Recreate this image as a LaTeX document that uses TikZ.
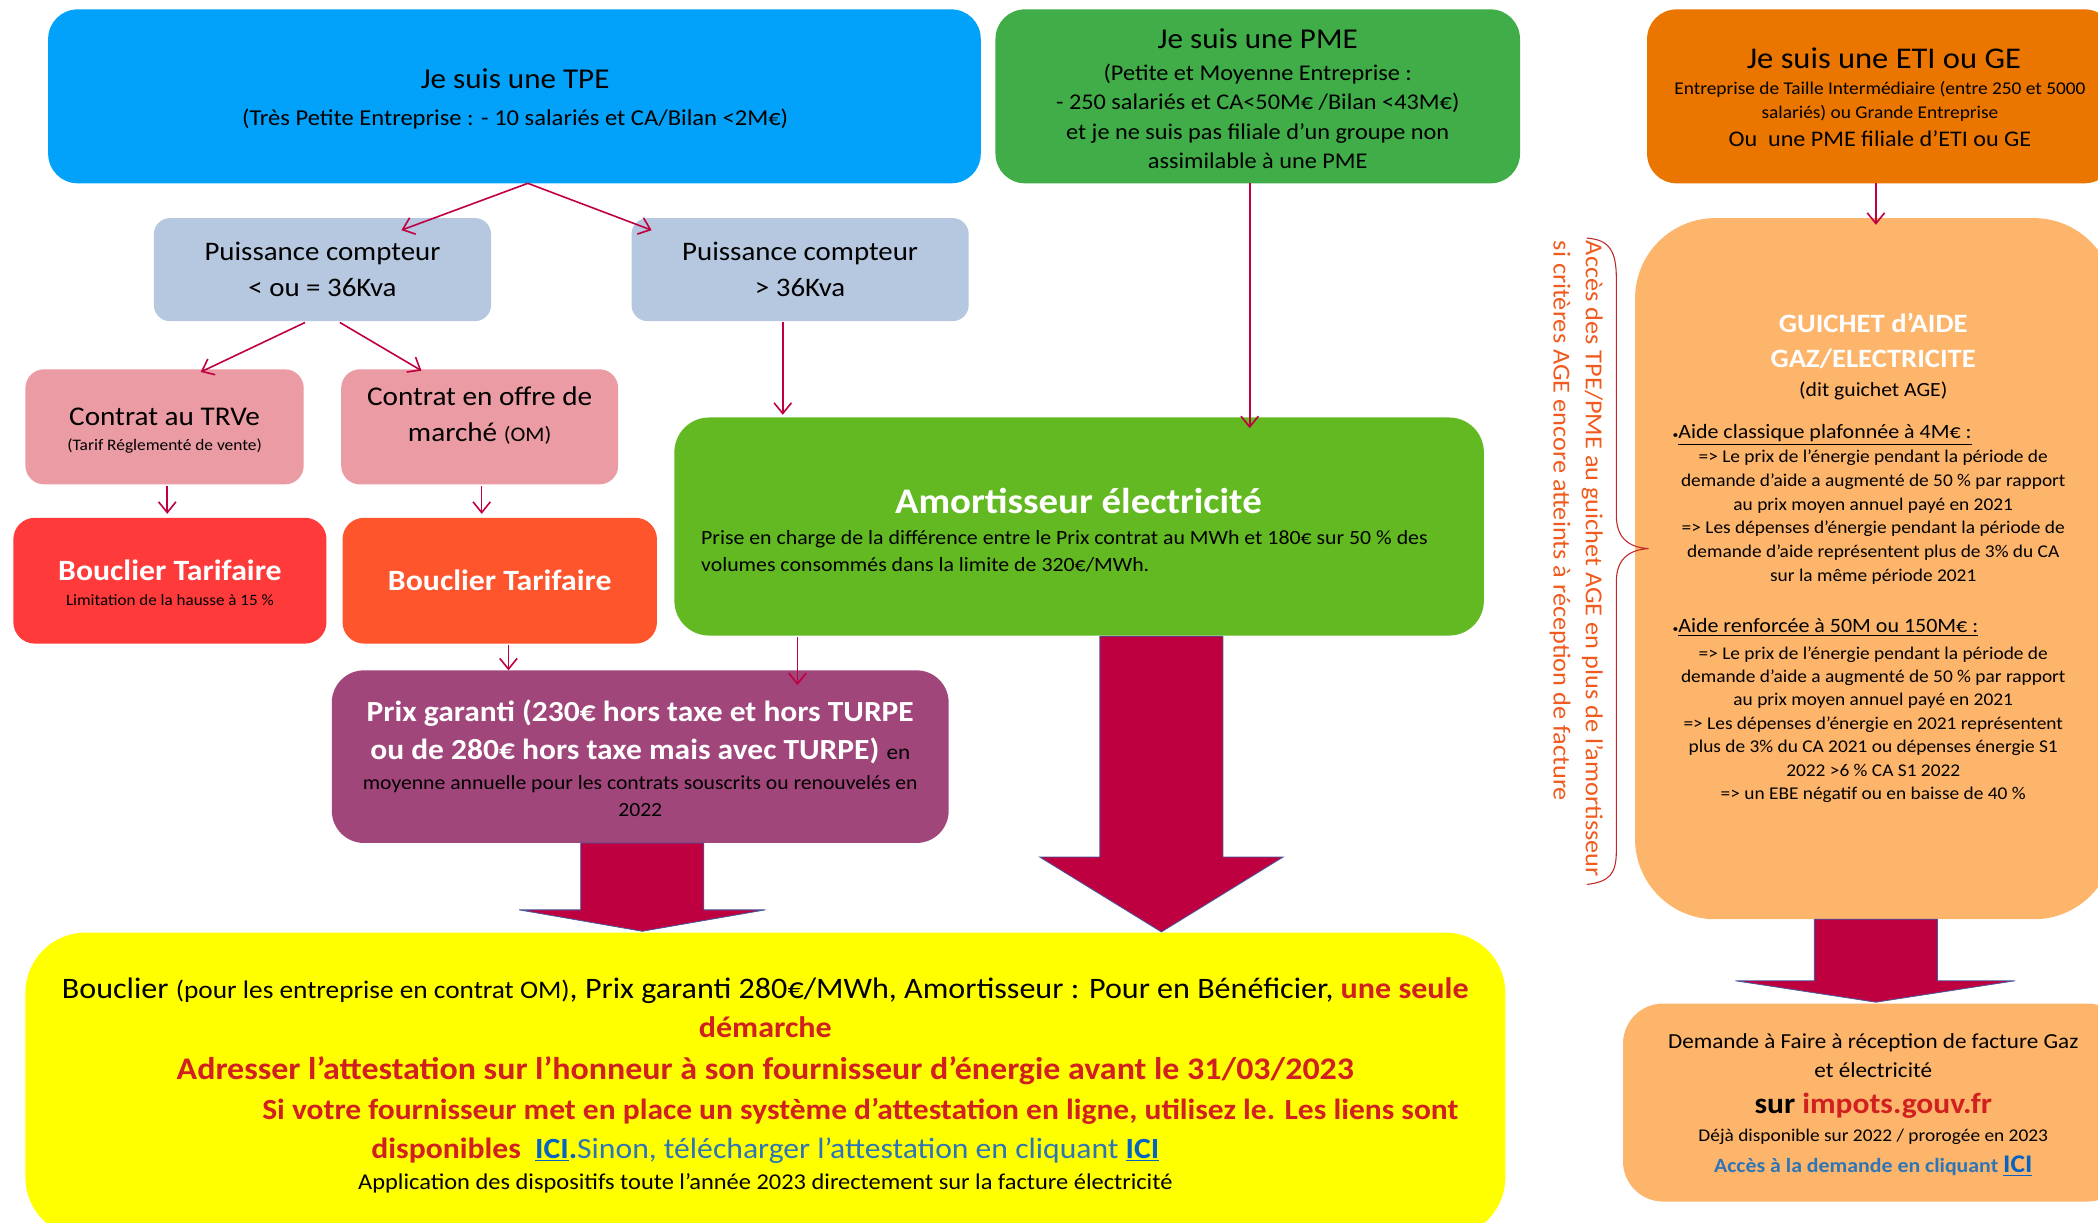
\documentclass[tikz,border=0pt]{standalone}
\usepackage{fontspec}
\setmainfont{Carlito}[FakeStretch=1.08]
\usetikzlibrary{arrows.meta,calc}
\definecolor{tpeblue}{RGB}{3,162,250}
\definecolor{pmegreen}{RGB}{64,173,72}
\definecolor{etiorange}{RGB}{234,118,0}
\definecolor{puiss}{RGB}{182,199,224}
\definecolor{pinkc}{RGB}{234,155,163}
\definecolor{redb}{RGB}{255,58,58}
\definecolor{orangeb}{RGB}{255,85,45}
\definecolor{amgreen}{RGB}{98,185,34}
\definecolor{prixp}{RGB}{160,70,122}
\definecolor{yel}{RGB}{255,255,0}
\definecolor{lorange}{RGB}{253,180,107}
\definecolor{crim}{RGB}{192,0,64}
\definecolor{bigred}{RGB}{190,0,64}
\definecolor{arrowedge}{RGB}{70,90,160}
\definecolor{redt}{RGB}{208,32,32}
\definecolor{bluet}{RGB}{46,117,182}
\definecolor{linkblue}{RGB}{5,99,193}
\definecolor{rotor}{RGB}{240,90,30}
\definecolor{bracec}{RGB}{192,40,40}
\newcommand{\fz}[2]{\fontsize{#1}{#2}\selectfont}
\begin{document}
\begin{tikzpicture}[x=1pt,y=-1pt,
  box/.style={inner sep=0pt,outer sep=0pt,draw=none},
  txt/.style={inner sep=0pt,outer sep=0pt,align=center},
  conn/.style={draw=crim,line width=1.2pt,-{Straight Barb[length=8pt,width=13pt]}},
  bigarrow/.style={fill=bigred,draw=arrowedge,line width=0.6pt,line join=miter}]
\useasboundingbox (0,0) rectangle (1568,914);
\clip (0,0) rectangle (1568,914);
\fill[white] (0,0) rectangle (1568,914);

% ---------- boxes ----------
\node[box,fill=tpeblue,rounded corners=22pt,minimum width=697pt,minimum height=130pt] (tpe) at (384.5,72) {};
\node[box,fill=pmegreen,rounded corners=22pt,minimum width=392pt,minimum height=130pt] (pme) at (940,72) {};
\node[box,fill=etiorange,rounded corners=22pt,minimum width=349pt,minimum height=130pt] (eti) at (1405.5,72) {};
\node[box,fill=puiss,rounded corners=12pt,minimum width=252pt,minimum height=77pt] (p1) at (241,201.5) {};
\node[box,fill=puiss,rounded corners=12pt,minimum width=252pt,minimum height=77pt] (p2) at (598,201.5) {};
\node[box,fill=pinkc,rounded corners=14pt,minimum width=208pt,minimum height=86pt] (trve) at (123,319) {};
\node[box,fill=pinkc,rounded corners=14pt,minimum width=207pt,minimum height=86pt] (om) at (358.5,319) {};
\node[box,fill=redb,rounded corners=16pt,minimum width=234pt,minimum height=94pt] (b1) at (127,434) {};
\node[box,fill=orangeb,rounded corners=16pt,minimum width=235pt,minimum height=94pt] (b2) at (373.5,434) {};
\node[box,fill=amgreen,rounded corners=26pt,minimum width=605pt,minimum height=163pt] (amort) at (806.5,393.5) {};
\node[box,fill=prixp,rounded corners=24pt,minimum width=461pt,minimum height=129pt] (prix) at (478.5,565.5) {};
\node[box,fill=lorange,rounded corners=60pt,minimum width=358pt,minimum height=524pt] (guichet) at (1401,425) {};
\node[box,fill=yel,rounded corners=45pt,minimum width=1106pt,minimum height=228pt] (yellow) at (572,811) {};
\node[box,fill=lorange,rounded corners=30pt,minimum width=377pt,minimum height=148pt] (demande) at (1401.5,824) {};

% ---------- texts ----------
\node[txt,anchor=base,font=\fz{21.5}{24}] (tpeT1) at (385,66.5) {Je suis une TPE};
\node[txt,anchor=base,font=\fz{17}{20}] (tpeT2) at (385,94) {(Très Petite Entreprise : - 10 salariés et CA/Bilan <2M€)};

\node[txt,anchor=base,font=\fz{21.5}{24}] (pmeT1) at (940,36.5) {Je suis une PME};
\node[txt,font=\fz{16.8}{22}] (pmeT2) at (940,87) {(Petite et Moyenne Entreprise :\\- 250 salariés et CA<50M€ /Bilan <43M€)\\et je ne suis pas filiale d’un groupe non\\assimilable à une PME};

\node[txt,anchor=base,font=\fz{22.5}{24}] (etiT1) at (1408,51) {Je suis une ETI ou GE};
\node[txt,font=\fz{13.4}{18}] (etiT2) at (1405,76) {Entreprise de Taille Intermédiaire (entre 250 et 5000\\salariés) ou Grande Entreprise};
\node[txt,anchor=base,font=\fz{16.7}{18}] (etiT3) at (1405,109.5) {Ou\ \ une PME filiale d’ETI ou GE};

\node[txt,font=\fz{20}{27}] (p1T) at (241,201.5) {Puissance compteur\\< ou = 36Kva};
\node[txt,font=\fz{20}{27}] (p2T) at (598,201.5) {Puissance compteur\\> 36Kva};

\node[txt,anchor=base,font=\fz{20.2}{24}] (trveT1) at (123,318) {Contrat au TRVe};
\node[txt,anchor=base,font=\fz{12}{14}] (trveT2) at (123,336.5) {(Tarif Réglementé de vente)};
\node[txt,font=\fz{20.2}{27}] (omT) at (358.5,310.5) {Contrat en offre de\\marché {\fz{15.5}{18}(OM)}};

\node[txt,anchor=base,font=\fz{22}{24}\bfseries,text=white] (b1T1) at (127,433.5) {Bouclier Tarifaire};
\node[txt,anchor=base,font=\fz{11.8}{13}] (b1T2) at (127,452.5) {Limitation de la hausse à 15 \%};
\node[txt,anchor=base,font=\fz{22}{24}\bfseries,text=white] (b2T) at (373.5,441.5) {Bouclier Tarifaire};

\node[txt,anchor=base,font=\fz{26.9}{28}\bfseries,text=white] (amT1) at (806,383.5) {Amortisseur électricité};
\node[txt,anchor=west,align=left,font=\fz{15.1}{20}] (amT2) at (524,412) {Prise en charge de la différence entre le Prix contrat au MWh et 180€ sur 50 \% des\\volumes consommés dans la limite de 320€/MWh.};

\node[txt,anchor=base,font=\fz{21.8}{24}\bfseries,text=white] (prT1) at (478.5,539.5) {Prix garanti (230€ hors taxe et hors TURPE};
\node[txt,anchor=base,font=\fz{21.8}{24}\bfseries,text=white] (prT2) at (478.5,567.5) {ou de 280€ hors taxe mais avec TURPE) {\mdseries\color{black}\fz{16}{18}en}};
\node[txt,font=\fz{15}{20}] (prT3) at (478.5,595) {moyenne annuelle pour les contrats souscrits ou renouvelés en\\2022};

\node[txt,font=\fz{19.8}{26}\bfseries,text=white] (gT1) at (1400,255) {GUICHET d’AIDE\\GAZ/ELECTRICITE};
\node[txt,anchor=base,font=\fz{15}{18}] (gT2) at (1400,296) {(dit guichet AGE)};
\node[txt,anchor=base west,font=\fz{15.2}{18}] (gT3) at (1250,328) {{\fz{8}{8}•}\underline{Aide classique plafonnée à 4M€ :}};
\node[txt,font=\fz{13.4}{17.8}] (gT4) at (1400,386.5) {=> Le prix de l’énergie pendant la période de\\demande d’aide a augmenté de 50 \% par rapport\\au prix moyen annuel payé en 2021\\=> Les dépenses d’énergie pendant la période de\\demande d’aide représentent plus de 3\% du CA\\sur la même période 2021};
\node[txt,anchor=base west,font=\fz{15.2}{18}] (gT5) at (1250,473) {{\fz{8}{8}•}\underline{Aide renforcée à 50M ou 150M€ :}};
\node[txt,font=\fz{13.4}{17.5}] (gT6) at (1400,541.5) {=> Le prix de l’énergie pendant la période de\\demande d’aide a augmenté de 50 \% par rapport\\au prix moyen annuel payé en 2021\\=> Les dépenses d’énergie en 2021 représentent\\plus de 3\% du CA 2021 ou dépenses énergie S1\\2022 >6 \% CA S1 2022\\=> un EBE négatif ou en baisse de 40 \%};

\node[txt,anchor=west,rotate=-90,font=\fz{18.2}{20},text=rotor] (rot1) at (1190,180) {Accès des TPE/PME au guichet AGE en plus de l’amortisseur};
\node[txt,anchor=west,rotate=-90,font=\fz{18.2}{20},text=rotor] (rot2) at (1166,180) {si critères AGE encore atteints à réception de facture};

\node[txt,font=\fz{16}{22}] (dT1) at (1400,789) {Demande à Faire à réception de facture Gaz\\et électricité};
\node[txt,anchor=base,font=\fz{21.8}{24}\bfseries] (dT2) at (1400,832.5) {sur {\color{redt}impots.gouv.fr}};
\node[txt,anchor=base,font=\fz{13.4}{15}] (dT3) at (1400,853) {Déjà disponible sur 2022 / prorogée en 2023};
\node[txt,anchor=base,font=\fz{15.1}{16}\bfseries,text=bluet] (dT4) at (1400,876.5) {Accès à la demande en cliquant {\color{linkblue}\fz{19}{20}\underline{ICI}}};

\node[txt,anchor=base,font=\fz{22.2}{24}] (yT1) at (572,746.5) {Bouclier {\fz{18.9}{20}(pour les entreprise en contrat OM)}, Prix garanti 280€/MWh, Amortisseur : Pour en Bénéficier, {\bfseries\color{redt}une seule}};
\node[txt,anchor=base,font=\fz{22.2}{24}\bfseries,text=redt] (yT2) at (572,775.5) {démarche};
\node[txt,anchor=base,font=\fz{23.5}{24}\bfseries,text=redt] (yT3) at (572,807) {Adresser l’attestation sur l’honneur à son fournisseur d’énergie avant le 31/03/2023};
\node[txt,anchor=base,font=\fz{21.8}{22}\bfseries,text=redt] (yT4) at (643,836.5) {Si votre fournisseur met en place un système d’attestation en ligne, utilisez le. Les liens sont};
\node[txt,anchor=base,font=\fz{21.9}{22}] (yT5) at (572,865.5) {{\bfseries\color{redt}disponibles}\ \ {\bfseries\color{linkblue}\underline{ICI}.}{\color{bluet}Sinon, télécharger l’attestation en cliquant }{\bfseries\color{linkblue}\underline{ICI}}};
\node[txt,anchor=base,font=\fz{16.9}{18}] (yT6) at (572,889) {Application des dispositifs toute l’année 2023 directement sur la facture électricité};

% ---------- thin connectors ----------
\draw[conn] ([xshift=10pt]tpe.south) -- ([xshift=59pt,yshift=-9pt]p1.north);
\draw[conn] ([xshift=10pt]tpe.south) -- ([xshift=-111pt,yshift=-9pt]p2.north);
\draw[conn] ([xshift=-13pt,yshift=-1pt]p1.south) -- ([xshift=27pt,yshift=-2pt]trve.north);
\draw[conn] ([xshift=13pt,yshift=-1pt]p1.south) -- ([xshift=-43.5pt,yshift=-1pt]om.north);
\draw[conn] ([xshift=2pt,yshift=-1pt]trve.south) -- ([xshift=-2pt,yshift=3pt]b1.north);
\draw[conn] ([xshift=1.5pt,yshift=-1pt]om.south) -- ([xshift=-13.5pt,yshift=3pt]b2.north);
\draw[conn] ([xshift=-13pt,yshift=-1pt]p2.south) -- ([xshift=-221.5pt,yshift=2pt]amort.north);
\draw[conn] ([xshift=-6pt]pme.south) -- ([xshift=127.5pt,yshift=-8pt]amort.north);
\draw[conn] ([xshift=6.5pt,yshift=-1pt]b2.south) -- ([xshift=-98.5pt,yshift=0pt]prix.north);
\draw[conn] ([xshift=-210.5pt,yshift=-1pt]amort.south) -- ([xshift=117.5pt,yshift=-11pt]prix.north);
\draw[conn] ([xshift=-3.5pt]eti.south) -- ([xshift=1pt,yshift=-5pt]guichet.north);

% ---------- big arrows ----------
\coordinate (a1) at ($(prix.south)+(1.5,0)$);
\path[bigarrow] ($(a1)+(-46,0)$) -- ($(a1)+(-46,50)$) -- ($(a1)+(-92,50)$) -- ($(a1)+(0,66)$) -- ($(a1)+(92,50)$) -- ($(a1)+(46,50)$) -- ($(a1)+(46,0)$) -- cycle;
\coordinate (a2) at ($(amort.south)+(61.5,0.5)$);
\path[bigarrow] ($(a2)+(-46,0)$) -- ($(a2)+(-46,165)$) -- ($(a2)+(-91,165)$) -- ($(a2)+(0,221)$) -- ($(a2)+(91,165)$) -- ($(a2)+(46,165)$) -- ($(a2)+(46,0)$) -- cycle;
\coordinate (a3) at ($(guichet.south)+(1,0)$);
\path[bigarrow] ($(a3)+(-46,0)$) -- ($(a3)+(-46,46)$) -- ($(a3)+(-105,46)$) -- ($(a3)+(0,62)$) -- ($(a3)+(104,46)$) -- ($(a3)+(46,46)$) -- ($(a3)+(46,0)$) -- cycle;

% ---------- brace ----------
\draw[bracec,line width=0.8pt] (1186,178) .. controls (1203,179) and (1208,188) .. (1208,208) -- (1208,385) .. controls (1208,401) and (1216,409) .. (1232,410) .. controls (1216,411) and (1208,419) .. (1208,435) -- (1208,636) .. controls (1208,653) and (1203,659) .. (1186,661);
\end{tikzpicture}
\end{document}
